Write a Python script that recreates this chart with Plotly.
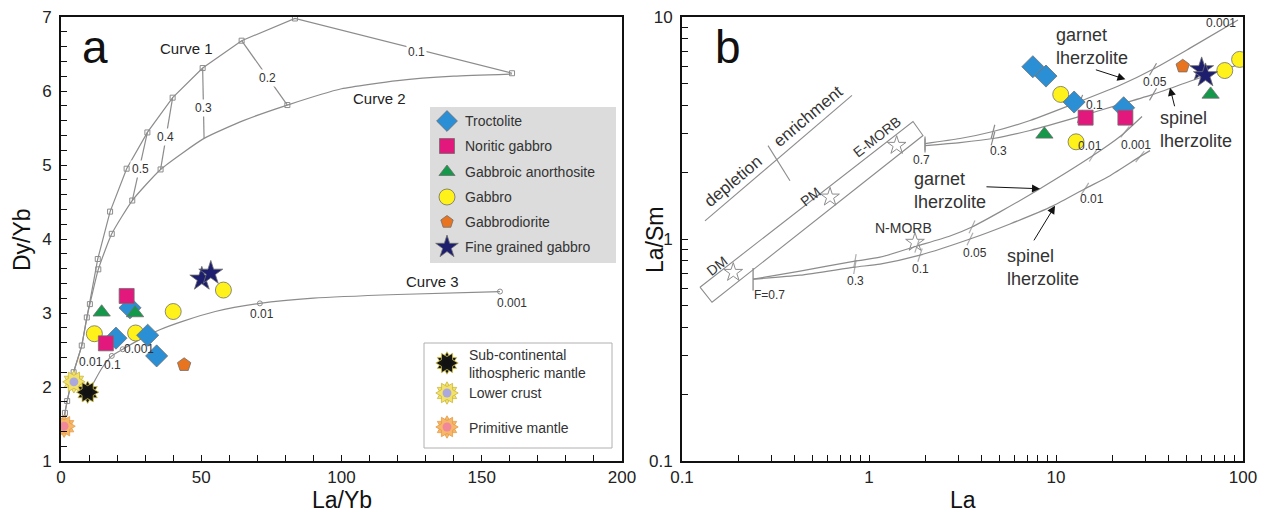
import numpy as np
import plotly.graph_objects as go

W, H = 1268, 515
FONT = "Liberation Sans"

# ---------------- Panel a : La/Yb vs Dy/Yb ----------------
a_troc_x = [24.6, 19.6, 30.9, 34.1]
a_troc_y = [3.07, 2.66, 2.70, 2.42]
a_norit_x = [23.4, 16.0]
a_norit_y = [3.23, 2.59]
a_anor_x = [14.5, 26.4]
a_anor_y = [3.01, 3.00]
a_gab_x = [57.9, 40.0, 11.9, 26.6]
a_gab_y = [3.31, 3.02, 2.72, 2.73]
a_dio_x = [43.9]
a_dio_y = [2.30]
a_fine_x = [50.2, 53.4]
a_fine_y = [3.46, 3.54]
a_sclm_x, a_sclm_y = [9.5], [1.93]
a_lc_x, a_lc_y = [4.6], [2.07]
a_pm_x, a_pm_y = [1.1], [1.47]

curve1_x = [0.8, 1.4, 2.2, 4.5, 7.4, 9.2, 10.3, 13.1, 17.5, 23.4, 30.8, 39.8, 50.5, 64.4, 83.4, 160.8]
curve1_y = [1.45, 1.65, 1.81, 2.2, 2.56, 2.94, 3.12, 3.73, 4.37, 4.95, 5.44, 5.91, 6.31, 6.68, 6.98, 6.24]
curve2_x = [0.8, 1.4, 2.2, 4.5, 7.4, 9.2, 10.3, 13.3, 18.1, 25.4, 35.5, 51.0, 65.0, 80.7, 100.0, 120.0, 140.0, 160.8]
curve2_y = [1.45, 1.65, 1.81, 2.2, 2.56, 2.94, 3.12, 3.59, 4.07, 4.52, 4.94, 5.36, 5.60, 5.81, 6.03, 6.14, 6.20, 6.23]
curve2_mark_x = [13.3, 18.1, 25.4, 35.5, 80.7]
curve2_mark_y = [3.59, 4.07, 4.52, 4.94, 5.81]
curve3_x = [9.5, 10.9, 14.5, 18.1, 22.0, 27.0, 35.0, 43.6, 55.0, 70.9, 90.0, 120.0, 156.5]
curve3_y = [1.93, 2.01, 2.25, 2.42, 2.51, 2.62, 2.77, 2.89, 3.02, 3.13, 3.20, 3.25, 3.29]
curve3_mark_x = [18.1, 22.0, 70.9, 156.5]
curve3_mark_y = [2.42, 2.51, 3.13, 3.29]

# tie lines between curve 1 and curve 2 (F labels)
tie_labels = ["0.2", "0.3", "0.4", "0.5"]
tie_x0 = [64.4, 50.5, 39.8, 30.8]
tie_y0 = [6.68, 6.31, 5.91, 5.44]
tie_x1 = [80.7, 51.0, 35.5, 25.4]
tie_y1 = [5.81, 5.36, 4.94, 4.52]
tie_lab_x = [73.7, 50.9, 37.4, 28.4]
tie_lab_y = [6.17, 5.77, 5.38, 4.95]

a_small_labels = ["0.1", "0.01", "0.1", "0.001", "0.01", "0.001"]
a_small_x = [126.8, 10.7, 18.3, 27.8, 71.5, 160.8]
a_small_y = [6.53, 2.34, 2.30, 2.51, 2.98, 3.14]

curve_names = ["Curve 1", "Curve 2", "Curve 3"]
curve_lab_x = [44.6, 113.7, 132.6]
curve_lab_y = [6.58, 5.90, 3.43]

a_xticks = list(range(0, 201, 10))
a_xtext = [str(v) if v % 50 == 0 else "" for v in a_xticks]
a_yticks = [round(1 + 0.2 * i, 1) for i in range(31)]
a_ytext = [str(int(v)) if abs(v - round(v)) < 1e-9 else "" for v in a_yticks]

# ---------------- Panel b : La vs La/Sm ----------------
b_troc_x = [7.52, 8.84, 12.5, 23.0]
b_troc_y = [5.97, 5.42, 4.14, 3.90]
b_norit_x = [14.4, 23.5]
b_norit_y = [3.52, 3.52]
b_anor_x = [8.67, 67.1]
b_anor_y = [2.96, 4.48]
b_gab_x = [10.6, 12.8, 79.9, 95.9]
b_gab_y = [4.48, 2.74, 5.74, 6.44]
b_dio_x = [47.6]
b_dio_y = [6.0]
b_fine_x = [60.1, 63.0]
b_fine_y = [5.80, 5.45]

band_x = [0.1248, 0.1447, 1.944, 1.719, 0.1248]
band_y = [0.6065, 0.519, 2.924, 3.383, 0.6065]
ref_names = ["DM", "PM", "E-MORB", "N-MORB"]
ref_x = [0.188, 0.619, 1.406, 1.762]
ref_y = [0.707, 1.544, 2.64, 0.966]

G1_x = [1.993, 3.067, 4.604, 7.26, 13.44, 21.99, 33.02, 52.07, 94.0]
G1_y = [2.691, 2.835, 3.050, 3.419, 4.169, 4.925, 5.817, 7.24, 9.69]
S1_x = [1.993, 3.067, 4.604, 7.26, 13.44, 21.99, 33.02, 52.07, 96.4]
S1_y = [2.635, 2.719, 2.835, 3.082, 3.565, 4.040, 4.483, 5.133, 6.13]
G2_x = [0.240, 0.428, 0.841, 1.145, 1.806, 2.712, 3.555, 5.018, 8.21, 15.77, 21.99, 28.84]
G2_y = [0.659, 0.717, 0.795, 0.828, 0.930, 1.032, 1.133, 1.325, 1.684, 2.375, 2.894, 3.565]
S2_x = [0.240, 0.428, 0.841, 1.145, 1.874, 3.468, 5.675, 9.64, 14.29, 19.45, 28.13, 31.83]
S2_y = [0.659, 0.687, 0.747, 0.771, 0.846, 1.0, 1.169, 1.410, 1.684, 1.928, 2.350, 2.501]

up_tick_x = [1.993, 4.604, 13.44, 33.02]
up_tick_ang = [0, 15, 22, 30]
G2_tick_x = [0.240, 0.841, 1.806, 3.555, 15.77, 23.39]
S2_tick_x = [0.240, 0.841, 1.874, 3.468, 14.29, 28.13]
low_tick_ang = [0, 10, 18, 25, 32, 38]

b_small_labels = ["0.7", "0.3", "0.1", "0.05", "0.001", "F=0.7", "0.3", "0.1", "0.05", "0.01", "0.01", "0.001"]
b_small_x = [1.913, 4.90, 15.97, 33.8, 76.3, 0.2955, 0.852, 1.874, 3.69, 15.58, 15.2, 26.8]
b_small_y = [2.26, 2.50, 4.00, 5.08, 9.40, 0.558, 0.6457, 0.732, 0.864, 1.517, 2.635, 2.66]

b_xticks = [m * 10.0 ** e for e in (-1, 0, 1) for m in range(1, 10)] + [100]
b_xtext = [("%g" % v) if m == 1 else "" for v, m in zip(b_xticks, [m for e in (-1, 0, 1) for m in range(1, 10)] + [1])]
b_yticks = [m * 10.0 ** e for e in (-1, 0) for m in range(1, 10)] + [10]
b_ytext = [("%g" % v) if m == 1 else "" for v, m in zip(b_yticks, [m for e in (-1, 0) for m in range(1, 10)] + [1])]

# legend entries
leg_names = ["Troctolite", "Noritic gabbro", "Gabbroic anorthosite", "Gabbro", "Gabbrodiorite", "Fine grained gabbro"]
leg_syms = ["diamond", "square", "triangle-up", "circle", "pentagon", "star"]
leg_cols = ["#2b8fd6", "#e2187c", "#14994a", "#fff21a", "#e8741f", "#1d1f6e"]
leg_sizes = [16, 15, 14, 16, 13, 17]
ref_leg_names = ["Sub-continental<br>lithospheric mantle", "Lower crust", "Primitive mantle"]

GREY = "#8c8c8c"
OUT = dict(color="#6f6f6f", width=0.8)
SZ = dict(diamond=17, square=15, tri=15, circle=16, pent=14, star=18)

fig = go.Figure()


def sc(x, y, ax, **kw):
    xa, ya = ("x", "y") if ax == "a" else (("x2", "y2") if ax == "b" else ("x3", "y3"))
    fig.add_trace(go.Scatter(x=x, y=y, xaxis=xa, yaxis=ya, showlegend=False, hoverinfo="skip", **kw))


def sun(x, y, ax, spike, spike_line, core, size=17):
    for ang in (0, 30):
        sc(x, y, ax, mode="markers", marker=dict(symbol="hexagram", size=size, angle=ang, color=spike,
                                                   line=dict(color=spike_line, width=0.8)))
    sc(x, y, ax, mode="markers", marker=dict(symbol="circle", size=size * 0.52, color=core,
                                               line=dict(color=core, width=0)))


# ---- panel a curves
sc(curve1_x, curve1_y, "a", mode="lines+markers", line=dict(color=GREY, width=1.2),
   marker=dict(symbol="square-open", size=5, color=GREY, line=dict(width=1)))
sc(curve2_x, curve2_y, "a", mode="lines", line=dict(color=GREY, width=1.2, shape="spline", smoothing=0.5))
sc(curve2_mark_x, curve2_mark_y, "a", mode="markers",
   marker=dict(symbol="square-open", size=5, color=GREY, line=dict(width=1)))
sc(curve3_x, curve3_y, "a", mode="lines", line=dict(color=GREY, width=1.2, shape="spline", smoothing=0.6))
sc(curve3_mark_x, curve3_mark_y, "a", mode="markers",
   marker=dict(symbol="circle-open", size=5, color=GREY, line=dict(width=1)))
for i in range(len(tie_x0)):
    sc([tie_x0[i], tie_x1[i]], [tie_y0[i], tie_y1[i]], "a", mode="lines", line=dict(color=GREY, width=1.2))

# ---- panel a data
sun(a_pm_x, a_pm_y, "a", "#f6b76a", "#e49a45", "#f0889a")
sun(a_lc_x, a_lc_y, "a", "#f3e26a", "#c9b640", "#aaa8dc")
sun(a_sclm_x, a_sclm_y, "a", "#151515", "#d8c84a", "#111111")
sc(a_gab_x, a_gab_y, "a", mode="markers", marker=dict(symbol="circle", size=SZ["circle"], color=leg_cols[3], line=OUT))
sc(a_troc_x, a_troc_y, "a", mode="markers", marker=dict(symbol="diamond", size=SZ["diamond"], color=leg_cols[0], line=OUT))
sc(a_norit_x, a_norit_y, "a", mode="markers", marker=dict(symbol="square", size=SZ["square"], color=leg_cols[1], line=OUT))
sc(a_anor_x, a_anor_y, "a", mode="markers", marker=dict(symbol="triangle-up", size=SZ["tri"], color=leg_cols[2], line=OUT))
sc(a_dio_x, a_dio_y, "a", mode="markers", marker=dict(symbol="pentagon", size=SZ["pent"], color=leg_cols[4], line=OUT))
sc(a_fine_x, a_fine_y, "a", mode="markers", marker=dict(symbol="star", size=SZ["star"], color=leg_cols[5], line=OUT))

# ---- panel b lines
sc(band_x, band_y, "b", mode="lines", line=dict(color=GREY, width=1.1))
sc([0.1327, 0.811], [1.206, 4.437], "b", mode="lines", line=dict(color=GREY, width=1.1))
sc([0.2884, 0.378], [2.635, 1.83], "b", mode="lines", line=dict(color=GREY, width=1.1))
for cx, cy in ((G1_x, G1_y), (S1_x, S1_y), (G2_x, G2_y), (S2_x, S2_y)):
    sc(cx, cy, "b", mode="lines", line=dict(color=GREY, width=1.2, shape="spline", smoothing=0.6))


def on_curve(xt, cx, cy):
    return list(10 ** np.interp(np.log10(xt), np.log10(cx), np.log10(cy)))


for cx, cy in ((G1_x, G1_y), (S1_x, S1_y)):
    sc(up_tick_x, on_curve(up_tick_x, cx, cy), "b", mode="markers",
       marker=dict(symbol="line-ns-open", size=10, angle=up_tick_ang, color=GREY, line=dict(color=GREY, width=1.2)))
for tx, cx, cy in ((G2_tick_x, G2_x, G2_y), (S2_tick_x, S2_x, S2_y)):
    sc(tx, on_curve(tx, cx, cy), "b", mode="markers",
       marker=dict(symbol="line-ns-open", size=[16] + [10] * (len(tx) - 1), angle=low_tick_ang, color=GREY,
                   line=dict(color=GREY, width=1.2)))
sc(ref_x, ref_y, "b", mode="markers", marker=dict(symbol="star-open", size=14, color=GREY, line=dict(width=1)))

# ---- panel b data
sc(b_gab_x, b_gab_y, "b", mode="markers", marker=dict(symbol="circle", size=SZ["circle"], color=leg_cols[3], line=OUT))
sc(b_anor_x, b_anor_y, "b", mode="markers", marker=dict(symbol="triangle-up", size=SZ["tri"], color=leg_cols[2], line=OUT))
sc(b_troc_x, b_troc_y, "b", mode="markers", marker=dict(symbol="diamond", size=SZ["diamond"], color=leg_cols[0], line=OUT))
sc(b_norit_x, b_norit_y, "b", mode="markers", marker=dict(symbol="square", size=SZ["square"], color=leg_cols[1], line=OUT))
sc(b_dio_x, b_dio_y, "b", mode="markers", marker=dict(symbol="pentagon", size=SZ["pent"], color=leg_cols[4], line=OUT))
sc(b_fine_x, b_fine_y, "b", mode="markers", marker=dict(symbol="star", size=SZ["star"], color=leg_cols[5], line=OUT))

# ---- legend markers (overlay pixel axes)
leg_y = [121, 146, 172, 197, 222, 247]
for i in range(6):
    sc([447], [leg_y[i]], "l", mode="markers",
       marker=dict(symbol=leg_syms[i], size=leg_sizes[i], color=leg_cols[i], line=OUT))
sun([447], [363], "l", "#151515", "#d8c84a", "#111111")
sun([447], [393], "l", "#f3e26a", "#c9b640", "#aaa8dc")
sun([447], [427], "l", "#f6b76a", "#e49a45", "#f0889a")

ann = []
shapes = []


def px(xp, yp):
    return xp / W, 1 - yp / H


# legend boxes
shapes.append(dict(type="rect", xref="paper", yref="paper", x0=430 / W, x1=616 / W, y0=1 - 263 / H, y1=1 - 107 / H,
                   fillcolor="#dcdcdc", line=dict(width=0), layer="below"))
shapes.append(dict(type="rect", xref="paper", yref="paper", x0=424 / W, x1=612 / W, y0=1 - 448 / H, y1=1 - 343 / H,
                   fillcolor="white", line=dict(color="#b0b0b0", width=1), layer="below"))
for i in range(6):
    x, y = px(463, leg_y[i])
    ann.append(dict(xref="paper", yref="paper", x=x, y=y, text=leg_names[i], showarrow=False, xanchor="left",
                    yanchor="middle", font=dict(family=FONT, size=14, color="#333")))
for t, yy in zip(ref_leg_names, [364, 393, 428]):
    x, y = px(467, yy)
    ann.append(dict(xref="paper", yref="paper", x=x, y=y, text=t, showarrow=False, xanchor="left", align="left",
                    yanchor="middle", font=dict(family=FONT, size=14, color="#333")))

# panel letters and axis titles
for t, xx, yy, s, ang in (("a", 95, 47, 46, 0), ("b", 728, 47, 46, 0), ("La/Yb", 342, 500, 23, 0),
                          ("La", 963, 500, 23, 0), ("Dy/Yb", 22, 240, 23, -90), ("La/Sm", 655, 240, 23, -90)):
    x, y = px(xx, yy)
    ann.append(dict(xref="paper", yref="paper", x=x, y=y, text=t, showarrow=False, textangle=ang,
                    xanchor="center", yanchor="middle",
                    font=dict(family=FONT, size=s, color="#111")))

# panel a labels
for t, x, y in zip(curve_names, curve_lab_x, curve_lab_y):
    ann.append(dict(xref="x", yref="y", x=x, y=y, text=t, showarrow=False,
                    font=dict(family=FONT, size=15, color="#222")))
for t, x, y in zip(tie_labels, tie_lab_x, tie_lab_y):
    ann.append(dict(xref="x", yref="y", x=x, y=y, text=t, showarrow=False, bgcolor="white", borderpad=1,
                    font=dict(family=FONT, size=12, color="#333")))
for i, (t, x, y) in enumerate(zip(a_small_labels, a_small_x, a_small_y)):
    ann.append(dict(xref="x", yref="y", x=x, y=y, text=t, showarrow=False,
                    bgcolor="white" if i == 0 else None, borderpad=1,
                    font=dict(family=FONT, size=12, color="#333")))

# panel b labels
L = np.log10
for t, x, y in zip(b_small_labels, b_small_x, b_small_y):
    ann.append(dict(xref="x2", yref="y2", x=L(x), y=L(y), text=t, showarrow=False,
                    font=dict(family=FONT, size=12, color="#333")))
rot_labels = [("DM", 0.1533, 0.757, -38), ("PM", 0.4836, 1.549, -38), ("E-MORB", 1.0996, 2.885, -38),
              ("depletion", 0.1874, 1.811, -40), ("enrichment", 0.4718, 3.565, -40), ("N-MORB", 1.525, 1.118, 0)]
for t, x, y, a in rot_labels:
    ann.append(dict(xref="x2", yref="y2", x=L(x), y=L(y), text=t, showarrow=False, textangle=a,
                    font=dict(family=FONT, size=17 if t in ("depletion", "enrichment") else 14, color="#333")))
for t, x, y in (("garnet<br>lherzolite", 9.76, 7.39), ("spinel<br>lherzolite", 35.1, 3.11),
                ("garnet<br>lherzolite", 1.692, 1.649), ("spinel<br>lherzolite", 5.34, 0.747)):
    ann.append(dict(xref="x2", yref="y2", x=L(x), y=L(y), text=t, showarrow=False, xanchor="left", align="left",
                    font=dict(family=FONT, size=18, color="#333")))
for hx, hy, axp, ayp in ((23.5, 5.24, -31, -10), (40.7, 4.80, 5, 20), (8.21, 1.684, -55, -2), (9.88, 1.41, -22, 36)):
    ann.append(dict(xref="x2", yref="y2", x=L(hx), y=L(hy), text="", showarrow=True, ax=axp, ay=ayp,
                    arrowhead=2, arrowsize=1.6, arrowwidth=1, arrowcolor="#111", standoff=0))

yd = [1 - 461 / H, 1 - 17 / H]
axcommon = dict(showline=True, linewidth=2, linecolor="#111", mirror=True, ticks="inside", ticklen=6,
                tickwidth=1.2, tickcolor="#111", showgrid=False, zeroline=False, automargin=False,
                tickfont=dict(family=FONT, size=17, color="#222"))
fig.update_layout(
    width=W, height=H, margin=dict(l=0, r=0, t=0, b=0, pad=0, autoexpand=False),
    paper_bgcolor="white", plot_bgcolor="rgba(0,0,0,0)",
    xaxis=dict(domain=[61 / W, 622 / W], range=[0, 200], tickmode="array", tickvals=a_xticks, ticktext=a_xtext,
               anchor="y", **axcommon),
    yaxis=dict(domain=yd, range=[1, 7], tickmode="array", tickvals=a_yticks, ticktext=a_ytext, anchor="x",
               ticklabelstandoff=4, **axcommon),
    xaxis2=dict(domain=[682 / W, 1243 / W], type="log", range=[-1, 2], tickmode="array", tickvals=b_xticks,
                ticktext=b_xtext, anchor="y2", **axcommon),
    yaxis2=dict(domain=yd, type="log", range=[-1, 1], tickmode="array", tickvals=b_yticks, ticktext=b_ytext,
                anchor="x2", ticklabelstandoff=4, **axcommon),
    xaxis3=dict(domain=[0, 1], range=[0, W], visible=False, anchor="y3", fixedrange=True),
    yaxis3=dict(domain=[0, 1], range=[H, 0], visible=False, anchor="x3", fixedrange=True),
    annotations=ann, shapes=shapes, showlegend=False,
)
fig.write_html("out.html")
